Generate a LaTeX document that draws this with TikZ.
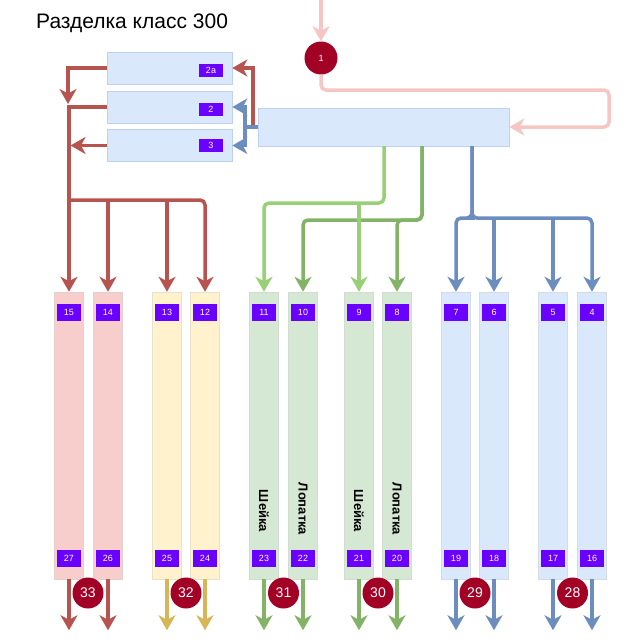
\documentclass[tikz,border=0pt]{standalone}
\usepackage{fontspec}
\setmainfont{Liberation Sans}
\usetikzlibrary{arrows.meta}
\definecolor{redL}{HTML}{B85450}
\definecolor{blueL}{HTML}{6C8EBF}
\definecolor{lgreenL}{HTML}{97D077}
\definecolor{dgreenL}{HTML}{82B366}
\definecolor{goldL}{HTML}{D6B656}
\definecolor{pinkL}{HTML}{F5C6C4}
\definecolor{purpleF}{HTML}{6A00FF}
\definecolor{darkredF}{HTML}{A20025}
\definecolor{blueF}{HTML}{DAE8FC}
\definecolor{blueS}{HTML}{BED2EE}
\definecolor{pinkF}{HTML}{F8CECC}
\definecolor{yellowF}{HTML}{FFF2CC}
\definecolor{greenF}{HTML}{D5E8D4}
\begin{document}
\begin{tikzpicture}[x=1pt,y=-1pt,
  arr/.style={line width=3.5pt, rounded corners=5pt, -{Stealth[length=15pt,width=17pt,inset=4.5pt]}},
  ln/.style={line width=3.5pt, rounded corners=5pt},
  bbox/.style={draw=blueS, fill=blueF, line width=0.6pt, minimum width=125pt, minimum height=32pt, inner sep=0pt},
  colbox/.style={draw=#1!85!black!60, fill=#1, line width=0.5pt, minimum width=29pt, minimum height=287pt, inner sep=0pt},
  lab/.style={fill=purpleF, text=white, font=\fontsize{9}{10}\selectfont, minimum width=24pt, minimum height=17pt, inner sep=0pt},
  slab/.style={fill=purpleF, text=white, font=\fontsize{9}{10}\selectfont, minimum width=24pt, minimum height=13pt, inner sep=0pt},
  circ/.style={circle, fill=darkredF, text=white, minimum size=31pt, inner sep=0pt, font=\fontsize{14}{16}\selectfont},
  vtext/.style={rotate=-90, font=\bfseries\fontsize{13}{15}\selectfont, inner sep=0pt}
]
\useasboundingbox (0,0) rectangle (628,640);

% title
\node[anchor=base west, font=\fontsize{21}{24}\selectfont, inner sep=0pt] (title) at (36,28) {Разделка класс 300};

% top boxes
\node[bbox] (box2a) at (169.5,68) {};
\node[bbox] (box2) at (169.5,107) {};
\node[bbox] (box3) at (169.5,145.5) {};
\node[slab] (l2a) at (211,70) {2a};
\node[slab] (l2) at (211,109) {2};
\node[slab] (l3) at (211,145) {3};
\node[draw=blueS, fill=blueF, line width=0.6pt, minimum width=251pt, minimum height=38pt, inner sep=0pt] (mainbox) at (383.5,127) {};

% circle 1 and pink input
\node[circ, minimum size=33pt, font=\fontsize{9}{10}\selectfont] (c1) at (321,58) {1};
\coordinate (pstart) at (321,0);
\draw[arr, pinkL] (pstart) -- (c1.north);
\draw[arr, pinkL] (c1.south) |- (609,90) |- (mainbox.east);

% columns
\foreach \n/\x/\f/\b/\ac in {15/69/pinkF/27/redL, 14/108/pinkF/26/redL, 13/167/yellowF/25/goldL, 12/205/yellowF/24/goldL,
  11/264/greenF/23/dgreenL, 10/303/greenF/22/dgreenL, 9/359/greenF/21/dgreenL, 8/397/greenF/20/dgreenL,
  7/456/blueF/19/blueL, 6/494/blueF/18/blueL, 5/553/blueF/17/blueL, 4/592/blueF/16/blueL}{
  \node[colbox=\f] (col\n) at (\x,435.5) {};
  \node[lab] (t\n) at (\x,312) {\n};
  \node[lab] (b\b) at (\x,558) {\b};
  \draw[arr, \ac] (col\n.south) -- ++(0,51);
}

% vertical texts
\node[vtext] (v11) at (264,511) {Шейка};
\node[vtext] (v10) at (303,509) {Лопатка};
\node[vtext] (v9) at (359,511) {Шейка};
\node[vtext] (v8) at (397,509) {Лопатка};

% bottom circles
\node[circ] (c33) at (88,593) {33};
\node[circ] (c32) at (186,593) {32};
\node[circ] (c31) at (283.5,593) {31};
\node[circ] (c30) at (378,593) {30};
\node[circ] (c29) at (475,593) {29};
\node[circ] (c28) at (572.5,593) {28};

% red distribution (left)
\coordinate (rj) at (253,127);
\draw[arr, redL, rounded corners=0pt] (mainbox.west) -- (rj) |- (box2a.east);
\draw[arr, redL, rounded corners=0pt] (box2a.west) -| (68,104);
\draw[arr, redL, rounded corners=0pt] (box2.west) -| (col15.north);
\draw[arr, redL] (68,200) -| (col12.north);
\draw[arr, redL] (108,200) -- (col14.north);
\draw[arr, redL] (167,200) -- (col13.north);
\draw[arr, redL] (box3.west) -- (70.5,145.5);

% blue to boxes 2 and 3
\coordinate (bj) at (245,127);
\draw[ln, blueL, rounded corners=0pt] (mainbox.west) -- (bj);
\draw[arr, blueL, rounded corners=0pt] (bj) |- (box2.east);
\draw[arr, blueL, rounded corners=0pt] (bj) |- (box3.east);

% green distribution
\coordinate (dg) at (422,146);
\draw[arr, dgreenL] (dg) |- (350,220) -| (col10.north);
\draw[arr, dgreenL] (dg) |- (397,220) -- (col8.north);
\coordinate (lg) at (384,146);
\draw[arr, lgreenL] (lg) |- (300,203) -| (col11.north);
\draw[arr, lgreenL] (359,203) -- (col9.north);

% blue distribution
\coordinate (bl) at (472,146);
\draw[arr, blueL] (bl) |- (470,218) -| (col7.north);
\draw[arr, blueL] (bl) |- (500,218) -| (col4.north);
\draw[arr, blueL] (494,218) -- (col6.north);
\draw[arr, blueL] (553,218) -- (col5.north);
\end{tikzpicture}
\end{document}
